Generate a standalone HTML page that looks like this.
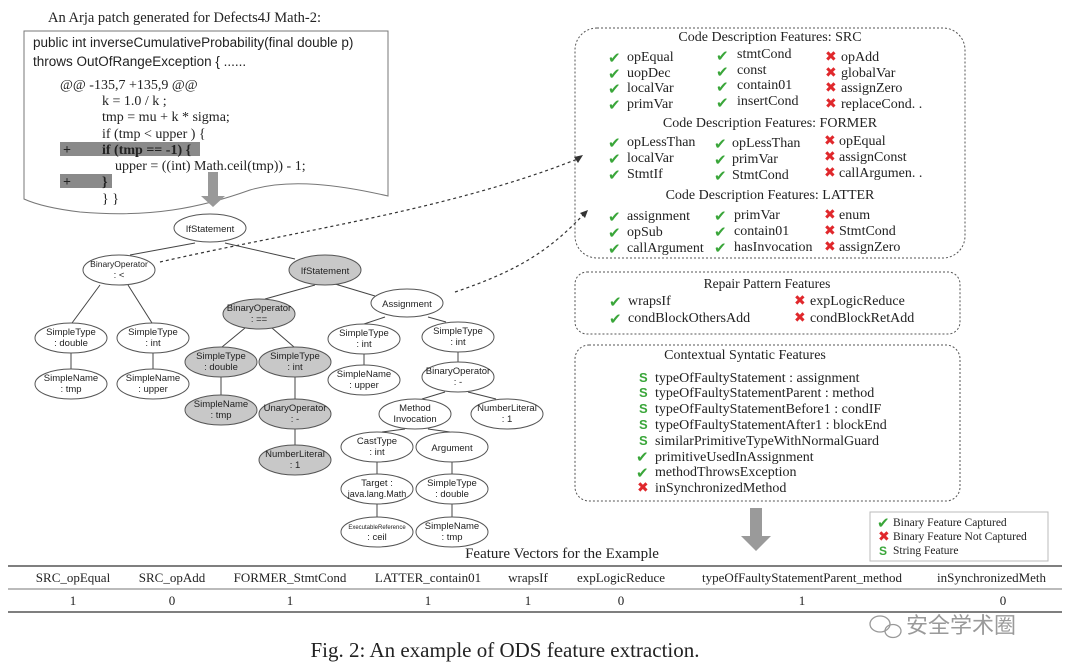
<!DOCTYPE html>
<html><head><meta charset="utf-8"><style>
html,body{margin:0;padding:0;background:#fff;}
svg{display:block;}
.s{font-family:"Liberation Sans",sans-serif;}
.r{font-family:"Liberation Serif",serif;}
.n{font-family:"Liberation Sans",sans-serif;font-size:9.5px;text-anchor:middle;fill:#222;}
.f{font-family:"Liberation Serif",serif;font-size:14px;fill:#222;}
.ck{fill:#3aa63a;font-family:"DejaVu Sans",sans-serif;font-size:15px;}
.x{fill:#e0282c;font-family:"DejaVu Sans",sans-serif;font-size:14px;}
</style></head><body>
<svg width="1080" height="669" viewBox="0 0 1080 669" xmlns="http://www.w3.org/2000/svg">
<text x="48" y="22" class="r" font-size="14.5" fill="#222">An Arja patch generated for Defects4J Math-2:</text>
<path d="M24,31 L388,31 L388,196 C340,185 290,178 250,190 C200,208 150,218 80,212 C55,209 35,204 24,199 Z" fill="#fff" stroke="#777" stroke-width="1"/>
<text x="33" y="47" class="s" font-size="13.5" fill="#222">public int inverseCumulativeProbability(final double p)</text>
<text x="33" y="66" class="s" font-size="13.5" fill="#222">throws OutOfRangeException {  ......</text>
<rect x="60" y="142" width="140" height="14" fill="#8a8a8a"/>
<rect x="60" y="174" width="52" height="14" fill="#8a8a8a"/>
<g class="r" font-size="14" fill="#222">
<text x="60" y="89">@@ -135,7 +135,9 @@</text>
<text x="102" y="105">k = 1.0 / k ;</text>
<text x="102" y="121">tmp = mu + k * sigma;</text>
<text x="102" y="138">if (tmp &lt; upper ) {</text>
<text x="63" y="154" font-weight="bold">+</text>
<text x="102" y="154" font-weight="bold">if (tmp == -1) {</text>
<text x="115" y="170">upper = ((int) Math.ceil(tmp)) - 1;</text>
<text x="63" y="186" font-weight="bold">+</text>
<text x="102" y="186" font-weight="bold">}</text>
<text x="102" y="203">} }</text>
</g>
<path d="M208,172 L218,172 L218,196 L225,196 L213,207 L201,196 L208,196 Z" fill="#999"/>
<g fill="none" stroke="#333" stroke-width="1.2" stroke-dasharray="3,3">
<path d="M160,262 C300,230 450,210 580,158"/>
<path d="M455,292 C520,270 550,250 585,213"/>
</g>
<path d="M583,155 L574,157 L578,163 Z" fill="#333"/>
<path d="M588,210 L580,213 L585,218 Z" fill="#333"/>
<g stroke="#444" stroke-width="1" fill="none">
<line x1="195" y1="243" x2="130" y2="255"/><line x1="225" y1="243" x2="295" y2="259"/>
<line x1="100" y1="285" x2="72" y2="323"/><line x1="128" y1="285" x2="152" y2="323"/>
<line x1="71" y1="353" x2="71" y2="369"/><line x1="153" y1="353" x2="153" y2="369"/>
<line x1="315" y1="285" x2="265" y2="299"/><line x1="335" y1="284" x2="375" y2="296"/>
<line x1="245" y1="328" x2="222" y2="347"/><line x1="272" y1="328" x2="294" y2="347"/>
<line x1="221" y1="377" x2="221" y2="395"/><line x1="295" y1="377" x2="295" y2="399"/>
<line x1="295" y1="429" x2="295" y2="445"/>
<line x1="385" y1="317" x2="364" y2="324"/><line x1="428" y1="317" x2="446" y2="322"/>
<line x1="364" y1="354" x2="364" y2="365"/><line x1="458" y1="352" x2="458" y2="362"/>
<line x1="445" y1="392" x2="422" y2="399"/><line x1="468" y1="392" x2="496" y2="399"/>
<line x1="405" y1="429" x2="382" y2="432"/><line x1="428" y1="429" x2="450" y2="432"/>
<line x1="377" y1="462" x2="377" y2="474"/><line x1="452" y1="462" x2="452" y2="474"/>
<line x1="377" y1="504" x2="377" y2="517"/><line x1="452" y1="504" x2="452" y2="517"/>
</g>
<g stroke="#555" stroke-width="1">
<ellipse cx="210" cy="228" rx="36" ry="14" fill="#fff"/>
<ellipse cx="119" cy="270" rx="36" ry="15" fill="#fff"/>
<ellipse cx="325" cy="270" rx="36" ry="15" fill="#c8c8c8"/>
<ellipse cx="259" cy="314" rx="36" ry="15" fill="#c8c8c8"/>
<ellipse cx="407" cy="303" rx="36" ry="14" fill="#fff"/>
<ellipse cx="71" cy="338" rx="36" ry="15" fill="#fff"/>
<ellipse cx="153" cy="338" rx="36" ry="15" fill="#fff"/>
<ellipse cx="71" cy="384" rx="36" ry="15" fill="#fff"/>
<ellipse cx="153" cy="384" rx="36" ry="15" fill="#fff"/>
<ellipse cx="221" cy="362" rx="36" ry="15" fill="#c8c8c8"/>
<ellipse cx="295" cy="362" rx="36" ry="15" fill="#c8c8c8"/>
<ellipse cx="221" cy="410" rx="36" ry="15" fill="#c8c8c8"/>
<ellipse cx="295" cy="414" rx="36" ry="15" fill="#c8c8c8"/>
<ellipse cx="295" cy="460" rx="36" ry="15" fill="#c8c8c8"/>
<ellipse cx="364" cy="339" rx="36" ry="15" fill="#fff"/>
<ellipse cx="458" cy="337" rx="36" ry="15" fill="#fff"/>
<ellipse cx="364" cy="380" rx="36" ry="15" fill="#fff"/>
<ellipse cx="458" cy="377" rx="36" ry="15" fill="#fff"/>
<ellipse cx="415" cy="414" rx="36" ry="15" fill="#fff"/>
<ellipse cx="507" cy="414" rx="36" ry="15" fill="#fff"/>
<ellipse cx="377" cy="447" rx="36" ry="15" fill="#fff"/>
<ellipse cx="452" cy="447" rx="36" ry="15" fill="#fff"/>
<ellipse cx="377" cy="489" rx="36" ry="15" fill="#fff"/>
<ellipse cx="452" cy="489" rx="36" ry="15" fill="#fff"/>
<ellipse cx="377" cy="532" rx="36" ry="15" fill="#fff"/>
<ellipse cx="452" cy="532" rx="36" ry="15" fill="#fff"/>
</g>
<g class="n">
<text x="210" y="232">IfStatement</text>
<text x="119" y="267" font-size="8.5">BinaryOperator</text><text x="119" y="278">: &lt;</text>
<text x="325" y="274">IfStatement</text>
<text x="259" y="311">BinaryOperator</text><text x="259" y="322">: ==</text>
<text x="407" y="307">Assignment</text>
<text x="71" y="335">SimpleType</text><text x="71" y="346">: double</text>
<text x="153" y="335">SimpleType</text><text x="153" y="346">: int</text>
<text x="71" y="381">SimpleName</text><text x="71" y="392">: tmp</text>
<text x="153" y="381">SimpleName</text><text x="153" y="392">: upper</text>
<text x="221" y="359">SimpleType</text><text x="221" y="370">: double</text>
<text x="295" y="359">SimpleType</text><text x="295" y="370">: int</text>
<text x="221" y="407">SimpleName</text><text x="221" y="418">: tmp</text>
<text x="295" y="411">UnaryOperator</text><text x="295" y="422">: -</text>
<text x="295" y="457">NumberLiteral</text><text x="295" y="468">: 1</text>
<text x="364" y="336">SimpleType</text><text x="364" y="347">: int</text>
<text x="458" y="334">SimpleType</text><text x="458" y="345">: int</text>
<text x="364" y="377">SimpleName</text><text x="364" y="388">: upper</text>
<text x="458" y="374">BinaryOperator</text><text x="458" y="385">: -</text>
<text x="415" y="411">Method</text><text x="415" y="422">Invocation</text>
<text x="507" y="411">NumberLiteral</text><text x="507" y="422">: 1</text>
<text x="377" y="444">CastType</text><text x="377" y="455">: int</text>
<text x="452" y="451">Argument</text>
<text x="377" y="486">Target :</text><text x="377" y="497" font-size="9">java.lang.Math</text>
<text x="452" y="486">SimpleType</text><text x="452" y="497">: double</text>
<text x="377" y="529" font-size="6">ExecutableReference</text><text x="377" y="540">: ceil</text>
<text x="452" y="529">SimpleName</text><text x="452" y="540">: tmp</text>
</g>
<rect x="575" y="28" width="390" height="230" rx="22" fill="none" stroke="#555" stroke-dasharray="2,2"/>
<g class="f">
<text x="770" y="41" text-anchor="middle">Code Description Features: SRC</text>
<text x="627" y="61">opEqual</text><text x="737" y="58">stmtCond</text><text x="841" y="61">opAdd</text>
<text x="627" y="77">uopDec</text><text x="737" y="74">const</text><text x="841" y="77">globalVar</text>
<text x="627" y="92">localVar</text><text x="737" y="89">contain01</text><text x="841" y="92">assignZero</text>
<text x="627" y="108">primVar</text><text x="737" y="105">insertCond</text><text x="841" y="108">replaceCond. .</text>
<text x="770" y="127" text-anchor="middle">Code Description Features: FORMER</text>
<text x="627" y="146">opLessThan</text><text x="732" y="147">opLessThan</text><text x="839" y="145">opEqual</text>
<text x="627" y="162">localVar</text><text x="732" y="163">primVar</text><text x="839" y="161">assignConst</text>
<text x="627" y="178">StmtIf</text><text x="732" y="179">StmtCond</text><text x="839" y="177">callArgumen. .</text>
<text x="770" y="199" text-anchor="middle">Code Description Features: LATTER</text>
<text x="627" y="220">assignment</text><text x="734" y="219">primVar</text><text x="839" y="219">enum</text>
<text x="627" y="236">opSub</text><text x="734" y="235">contain01</text><text x="839" y="235">StmtCond</text>
<text x="627" y="252">callArgument</text><text x="734" y="251">hasInvocation</text><text x="839" y="251">assignZero</text>
</g>
<g class="ck">
<text x="608" y="63">✔</text><text x="716" y="61">✔</text>
<text x="608" y="79">✔</text><text x="716" y="77">✔</text>
<text x="608" y="94">✔</text><text x="716" y="92">✔</text>
<text x="608" y="110">✔</text><text x="716" y="108">✔</text>
<text x="608" y="148">✔</text><text x="714" y="149">✔</text>
<text x="608" y="164">✔</text><text x="714" y="165">✔</text>
<text x="608" y="180">✔</text><text x="714" y="181">✔</text>
<text x="608" y="222">✔</text><text x="714" y="221">✔</text>
<text x="608" y="238">✔</text><text x="714" y="237">✔</text>
<text x="608" y="254">✔</text><text x="714" y="253">✔</text>
</g>
<g class="x">
<text x="825" y="61">✖</text><text x="825" y="77">✖</text><text x="825" y="92">✖</text><text x="825" y="108">✖</text>
<text x="824" y="145">✖</text><text x="824" y="161">✖</text><text x="824" y="177">✖</text>
<text x="824" y="219">✖</text><text x="824" y="235">✖</text><text x="824" y="251">✖</text>
</g>
<rect x="575" y="272" width="385" height="62" rx="12" fill="none" stroke="#555" stroke-dasharray="2,2"/>
<g class="f">
<text x="767" y="288" text-anchor="middle" font-size="13.5">Repair Pattern Features</text>
<text x="628" y="305">wrapsIf</text><text x="810" y="305">expLogicReduce</text>
<text x="628" y="322">condBlockOthersAdd</text><text x="810" y="322">condBlockRetAdd</text>
</g>
<text x="609" y="307" class="ck">✔</text><text x="609" y="324" class="ck">✔</text>
<text x="794" y="305" class="x">✖</text><text x="794" y="322" class="x">✖</text>
<rect x="575" y="345" width="385" height="156" rx="14" fill="none" stroke="#555" stroke-dasharray="2,2"/>
<g class="f" font-size="13.5">
<text x="745" y="359" text-anchor="middle">Contextual Syntatic Features</text>
<text x="655" y="382">typeOfFaultyStatement : assignment</text>
<text x="655" y="397">typeOfFaultyStatementParent : method</text>
<text x="655" y="413">typeOfFaultyStatementBefore1 : condIF</text>
<text x="655" y="429">typeOfFaultyStatementAfter1 :  blockEnd</text>
<text x="655" y="445">similarPrimitiveTypeWithNormalGuard</text>
<text x="655" y="461">primitiveUsedInAssignment</text>
<text x="655" y="476">methodThrowsException</text>
<text x="655" y="492">inSynchronizedMethod</text>
</g>
<g fill="#3aa63a" font-family="Liberation Sans,sans-serif" font-weight="bold" font-size="13">
<text x="639" y="382">S</text><text x="639" y="397">S</text><text x="639" y="413">S</text><text x="639" y="429">S</text><text x="639" y="445">S</text>
</g>
<text x="636" y="462" class="ck">✔</text><text x="636" y="478" class="ck">✔</text>
<text x="637" y="492" class="x">✖</text>
<path d="M750,508 L762,508 L762,536 L771,536 L756,551 L741,536 L750,536 Z" fill="#9a9a9a"/>
<rect x="870" y="512" width="178" height="49" fill="#fff" stroke="#bbb"/>
<g class="r" font-size="11.5" fill="#222">
<text x="893" y="526">Binary Feature Captured</text>
<text x="893" y="540">Binary Feature Not Captured</text>
<text x="893" y="554">String Feature</text>
</g>
<text x="877" y="528" class="ck" font-size="13">✔</text>
<text x="878" y="541" class="x" font-size="12">✖</text>
<text x="879" y="555" fill="#3aa63a" font-family="Liberation Sans,sans-serif" font-weight="bold" font-size="12">S</text>
<text x="562" y="558" class="r" font-size="15" text-anchor="middle" fill="#222">Feature Vectors for the Example</text>
<line x1="8" y1="566" x2="1062" y2="566" stroke="#555" stroke-width="1.5"/>
<line x1="8" y1="589" x2="1062" y2="589" stroke="#777" stroke-width="1"/>
<line x1="8" y1="612" x2="1062" y2="612" stroke="#555" stroke-width="1.5"/>
<g class="r" font-size="13" fill="#222" text-anchor="middle">
<text x="73" y="582">SRC_opEqual</text><text x="172" y="582">SRC_opAdd</text><text x="290" y="582">FORMER_StmtCond</text>
<text x="428" y="582">LATTER_contain01</text><text x="528" y="582">wrapsIf</text><text x="621" y="582">expLogicReduce</text>
<text x="802" y="582">typeOfFaultyStatementParent_method</text>
<text x="73" y="605">1</text><text x="172" y="605">0</text><text x="290" y="605">1</text><text x="428" y="605">1</text>
<text x="528" y="605">1</text><text x="621" y="605">0</text><text x="802" y="605">1</text><text x="1003" y="605">0</text>
</g>
<text x="937" y="582" class="r" font-size="13" fill="#222">inSynchronizedMeth</text>
<g fill="none" stroke="#999" stroke-width="1.3">
<ellipse cx="880" cy="624" rx="10" ry="8"/><ellipse cx="893" cy="631" rx="8" ry="6.5"/>
</g>
<text x="906" y="633" font-family="'Noto Sans CJK SC',sans-serif" font-size="22" fill="#9a9a9a">安全学术圈</text>
<text x="505" y="657" class="r" font-size="21" text-anchor="middle" fill="#222">Fig. 2: An example of ODS feature extraction.</text>
</svg>
</body></html>
